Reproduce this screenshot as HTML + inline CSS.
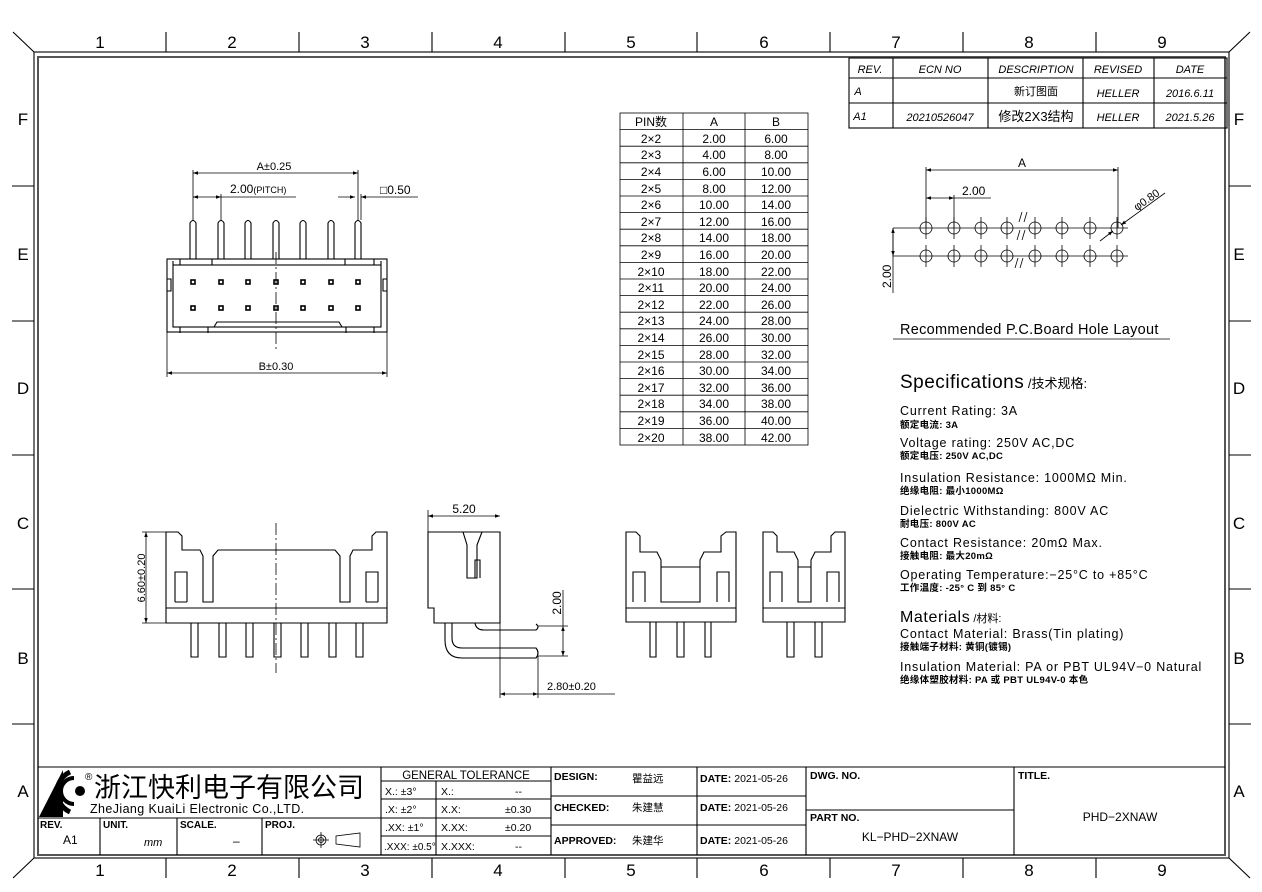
<!DOCTYPE html>
<html><head><meta charset="utf-8"><style>
html,body{margin:0;padding:0;background:#fff}
svg{display:block}
text{font-family:"Liberation Sans","Noto Sans CJK SC",sans-serif;fill:#000}
.s{stroke:#000;stroke-width:1.1;fill:none}
.t{stroke:#000;stroke-width:0.8;fill:none}
.c{stroke:#000;stroke-width:0.8;fill:none;stroke-dasharray:12 3 2 3}
.sp{font-size:12.5px;letter-spacing:0.8px}
.cn{font-size:9.5px;font-weight:bold;letter-spacing:0.3px}
</style></head><body>
<svg width="1262" height="892" viewBox="0 0 1262 892" xmlns="http://www.w3.org/2000/svg">
<defs>
<marker id="a" viewBox="0 0 10 10" refX="10" refY="5" markerWidth="9" markerHeight="5" orient="auto-start-reverse" markerUnits="userSpaceOnUse"><path d="M0,1.5 L10,5 L0,8.5z" fill="#000"/></marker>
</defs>
<!-- frame -->
<rect x="34" y="52" width="1195" height="806" class="s" stroke-width="1.4"/>
<rect x="38" y="57" width="1187" height="798" fill="none" stroke="#555" stroke-width="2"/>
<path class="s" d="M13,32L34,52M1250,32L1229,52M13,878L34,858M1250,878L1229,858"/>
<g class="s">
<path d="M166,32V52M299,32V52M432,32V52M565,32V52M697,32V52M830,32V52M963,32V52M1096,32V52"/>
<path d="M166,858V878M299,858V878M432,858V878M565,858V878M697,858V878M830,858V878M963,858V878M1096,858V878"/>
<path d="M12,186H34M12,321H34M12,455H34M12,589H34M12,724H34"/>
<path d="M1229,186H1251M1229,321H1251M1229,455H1251M1229,589H1251M1229,724H1251"/>
</g>
<g font-size="17" text-anchor="middle">
<text x="100" y="48">1</text><text x="232" y="48">2</text><text x="365" y="48">3</text><text x="498" y="48">4</text><text x="631" y="48">5</text><text x="764" y="48">6</text><text x="896" y="48">7</text><text x="1029" y="48">8</text><text x="1162" y="48">9</text>
<text x="100" y="876">1</text><text x="232" y="876">2</text><text x="365" y="876">3</text><text x="498" y="876">4</text><text x="631" y="876">5</text><text x="764" y="876">6</text><text x="896" y="876">7</text><text x="1029" y="876">8</text><text x="1162" y="876">9</text>
<text x="23" y="125">F</text><text x="23" y="260">E</text><text x="23" y="394">D</text><text x="23" y="529">C</text><text x="23" y="664">B</text><text x="23" y="797">A</text>
<text x="1239" y="125">F</text><text x="1239" y="260">E</text><text x="1239" y="394">D</text><text x="1239" y="529">C</text><text x="1239" y="664">B</text><text x="1239" y="797">A</text>
</g>

<!-- revision table -->
<g class="s"><rect x="849" y="58" width="378" height="70"/><path d="M849,78H1227M849,103H1227M893,58V128M988,58V128M1083,58V128M1154,58V128"/></g>
<g font-size="11" font-style="italic" text-anchor="middle">
<text x="870" y="73">REV.</text><text x="940" y="73">ECN  NO</text><text x="1036" y="73">DESCRIPTION</text><text x="1118" y="73">REVISED</text><text x="1190" y="73">DATE</text>
<text x="858" y="95">A</text><text x="1036" y="95" font-style="normal">新订图面</text><text x="1118" y="97">HELLER</text><text x="1190" y="97">2016.6.11</text>
<text x="860" y="120">A1</text><text x="940" y="121">20210526047</text><text x="1036" y="121" font-style="normal" font-size="13">修改2X3结构</text><text x="1118" y="121">HELLER</text><text x="1190" y="121">2021.5.26</text>
</g>

<!-- PIN table -->
<g class="t">
<rect x="620" y="113" width="188" height="332"/>
<path d="M683,113V445M745,113V445"/>
<path d="M620,129.6H808M620,146.2H808M620,162.8H808M620,179.4H808M620,196H808M620,212.6H808M620,229.2H808M620,245.8H808M620,262.4H808M620,279H808M620,295.6H808M620,312.2H808M620,328.8H808M620,345.4H808M620,362H808M620,378.6H808M620,395.2H808M620,411.8H808M620,428.4H808"/>
</g>
<g font-size="12" text-anchor="middle">
<text x="651" y="126">PIN数</text><text x="714" y="126">A</text><text x="776" y="126">B</text>
<text x="651" y="143">2×2</text><text x="714" y="143">2.00</text><text x="776" y="143">6.00</text>
<text x="651" y="159">2×3</text><text x="714" y="159">4.00</text><text x="776" y="159">8.00</text>
<text x="651" y="176">2×4</text><text x="714" y="176">6.00</text><text x="776" y="176">10.00</text>
<text x="651" y="193">2×5</text><text x="714" y="193">8.00</text><text x="776" y="193">12.00</text>
<text x="651" y="209">2×6</text><text x="714" y="209">10.00</text><text x="776" y="209">14.00</text>
<text x="651" y="226">2×7</text><text x="714" y="226">12.00</text><text x="776" y="226">16.00</text>
<text x="651" y="242">2×8</text><text x="714" y="242">14.00</text><text x="776" y="242">18.00</text>
<text x="651" y="259">2×9</text><text x="714" y="259">16.00</text><text x="776" y="259">20.00</text>
<text x="651" y="276">2×10</text><text x="714" y="276">18.00</text><text x="776" y="276">22.00</text>
<text x="651" y="292">2×11</text><text x="714" y="292">20.00</text><text x="776" y="292">24.00</text>
<text x="651" y="309">2×12</text><text x="714" y="309">22.00</text><text x="776" y="309">26.00</text>
<text x="651" y="325">2×13</text><text x="714" y="325">24.00</text><text x="776" y="325">28.00</text>
<text x="651" y="342">2×14</text><text x="714" y="342">26.00</text><text x="776" y="342">30.00</text>
<text x="651" y="359">2×15</text><text x="714" y="359">28.00</text><text x="776" y="359">32.00</text>
<text x="651" y="375">2×16</text><text x="714" y="375">30.00</text><text x="776" y="375">34.00</text>
<text x="651" y="392">2×17</text><text x="714" y="392">32.00</text><text x="776" y="392">36.00</text>
<text x="651" y="408">2×18</text><text x="714" y="408">34.00</text><text x="776" y="408">38.00</text>
<text x="651" y="425">2×19</text><text x="714" y="425">36.00</text><text x="776" y="425">40.00</text>
<text x="651" y="442">2×20</text><text x="714" y="442">38.00</text><text x="776" y="442">42.00</text>
</g>

<!-- top-left front view -->
<g class="s">
<rect x="167" y="259" width="220" height="73"/>
<rect x="173" y="265" width="208" height="62"/>
<path d="M173,265V261M381,265V261M180,265V259M212,265V259M345,265V259M374,265V259M180,327V333M208,327V333M346,327V333M374,327V333"/>
<path d="M214,327L217,322H339L342,327"/>
<path d="M167,279H171V291H167M387,279H383V291H387"/>
</g>
<g class="s" stroke-width="1">
<path d="M190,259V223Q193,218 196,223V259"/><path d="M218,259V223Q221,218 224,223V259"/><path d="M245,259V223Q248,218 251,223V259"/><path d="M273,259V223Q276,218 279,223V259"/><path d="M300,259V223Q303,218 306,223V259"/><path d="M328,259V223Q331,218 334,223V259"/><path d="M355,259V223Q358,218 361,223V259"/>
</g>
<g fill="#fff" stroke="#000" stroke-width="1.6">
<rect x="191" y="280" width="4" height="4"/><rect x="219" y="280" width="4" height="4"/><rect x="246" y="280" width="4" height="4"/><rect x="274" y="280" width="4" height="4"/><rect x="301" y="280" width="4" height="4"/><rect x="329" y="280" width="4" height="4"/><rect x="356" y="280" width="4" height="4"/>
<rect x="191" y="306" width="4" height="4"/><rect x="219" y="306" width="4" height="4"/><rect x="246" y="306" width="4" height="4"/><rect x="274" y="306" width="4" height="4"/><rect x="301" y="306" width="4" height="4"/><rect x="329" y="306" width="4" height="4"/><rect x="356" y="306" width="4" height="4"/>
</g>
<path class="c" d="M276,252V350"/>
<g class="t">
<path d="M193,170V220M358,170V220M221,194V220M361,194V220"/>
<path d="M193,173H358" marker-start="url(#a)" marker-end="url(#a)"/>
<path d="M193,197H221" marker-start="url(#a)" marker-end="url(#a)"/><path d="M221,197H296"/>
<path d="M338,197H355" marker-end="url(#a)"/><path d="M418,197H361" marker-end="url(#a)"/>
<path d="M167,332V377M387,332V377"/>
<path d="M167,373H387" marker-start="url(#a)" marker-end="url(#a)"/>
</g>
<text x="274" y="170" font-size="11" text-anchor="middle">A±0.25</text>
<text x="230" y="193" font-size="12">2.00<tspan font-size="9">(PITCH)</tspan></text>
<text x="380" y="194" font-size="12">□0.50</text>
<text x="276" y="370" font-size="11" text-anchor="middle">B±0.30</text>

<!-- bottom left view -->
<g class="s">
<path d="M166,623V532H178L182,536V550H200L203,556V602H213V556L218,550H335L340,556V602H350V556L353,550H372V536L376,532H387V623Z"/>
<path d="M175,602V572H187V602M366,602V572H378V602M166,608H387M175,602H187M366,602H378"/>
<path d="M191,623V657H198V623M219,623V657H226V623M246,623V657H253V623M274,623V657H281V623M301,623V657H308V623M329,623V657H336V623M356,623V657H363V623"/>
</g>
<path class="c" d="M276,523V673"/>
<g class="t"><path d="M166,532H142M166,623H142"/><path d="M146,532V623" marker-start="url(#a)" marker-end="url(#a)"/></g>
<text transform="translate(145,578) rotate(-90)" font-size="11" text-anchor="middle">6.60±0.20</text>

<!-- side view -->
<g class="s">
<path d="M428,532H500V623H434V608H428Z"/>
<path d="M463,532L467,545V578H477V545L482,532M475,578V560H480V578"/>
<path d="M475,623Q476,630 484,630H536Q540,627 536,624"/>
<path d="M445,623V640Q445,658 462,658H536Q540,653 536,648H462Q452,648 452,638V623"/>
</g>
<g class="t">
<path d="M428,532V510M500,532V698M538,626H568M538,656H568M538,656V698"/>
<path d="M428,516H500" marker-start="url(#a)" marker-end="url(#a)"/>
<path d="M563,590V626" /><path d="M563,626V656" marker-start="url(#a)" marker-end="url(#a)"/>
<path d="M500,694H538" marker-start="url(#a)" marker-end="url(#a)"/><path d="M538,694H615"/>
</g>
<text x="464" y="513" font-size="12" text-anchor="middle">5.20</text>
<text transform="translate(561,603) rotate(-90)" font-size="12" text-anchor="middle">2.00</text>
<text x="547" y="690" font-size="11">2.80±0.20</text>

<!-- view 3 -->
<g class="s">
<path d="M626,622V532H636L640,536V552H657L661,560V602H700V560L704,552H721V536L726,532H736V622Z"/>
<path d="M661,567H700M633,602V572H645V602M717,602V572H729V602M626,608H736"/>
<path d="M650,622V657H656V622M677,622V657H684V622M705,622V657H711V622"/>
</g>
<!-- view 4 -->
<g class="s">
<path d="M763,622V532H773L777,536V552H794L798,560V602H811V560L815,552H831V536L835,532H845V622Z"/>
<path d="M798,567H811M770,602V572H782V602M827,602V572H839V602M763,608H845"/>
<path d="M787,622V657H794V622M815,622V657H822V622"/>
</g>

<!-- hole layout -->
<g class="t">
<path d="M893,228H1128M893,256H1128"/>
<path d="M926,239V217M954,239V217M981,239V217M1007,239V217M1035,239V217M1062,239V217M1090,239V217M1117,239V217"/>
<path d="M926,267V245M954,267V245M981,267V245M1007,267V245M1035,267V245M1062,267V245M1090,267V245M1117,267V245"/>
<g fill="none">
<circle cx="926" cy="228" r="6"/><circle cx="954" cy="228" r="6"/><circle cx="981" cy="228" r="6"/><circle cx="1007" cy="228" r="6"/><circle cx="1035" cy="228" r="6"/><circle cx="1062" cy="228" r="6"/><circle cx="1090" cy="228" r="6"/><circle cx="1117" cy="228" r="6"/>
<circle cx="926" cy="256" r="6"/><circle cx="954" cy="256" r="6"/><circle cx="981" cy="256" r="6"/><circle cx="1007" cy="256" r="6"/><circle cx="1035" cy="256" r="6"/><circle cx="1062" cy="256" r="6"/><circle cx="1090" cy="256" r="6"/><circle cx="1117" cy="256" r="6"/>
</g>
<path d="M926,167V228M1118,167V228M954,195V228"/>
<path d="M926,170H1118" marker-start="url(#a)" marker-end="url(#a)"/>
<path d="M926,198H954" marker-start="url(#a)" marker-end="url(#a)"/><path d="M954,198H991"/>
<path d="M893,228V293"/><path d="M893,228V256" marker-start="url(#a)" marker-end="url(#a)"/>
<path d="M1100,241L1113,231" marker-end="url(#a)"/><path d="M1165,193L1121,225" marker-end="url(#a)"/>
<path d="M1019,222L1022,212M1024,222L1027,212M1017,240L1020,230M1022,240L1025,230M1015,268L1018,258M1020,268L1023,258"/>
<path d="M893,339H1170"/>
</g>
<text x="1022" y="167" font-size="12" text-anchor="middle">A</text>
<text x="962" y="195" font-size="12">2.00</text>
<text transform="translate(891,288) rotate(-90)" font-size="12">2.00</text>
<text transform="translate(1137,211) rotate(-35)" font-size="11">φ0.80</text>
<text x="900" y="334" font-size="14.5" letter-spacing="0.3">Recommended  P.C.Board Hole  Layout</text>

<!-- specs -->
<g>
<text x="900" y="388" font-size="19" letter-spacing="0.5">Specifications<tspan font-size="13" letter-spacing="0"> /技术规格:</tspan></text>
<text x="900" y="415" class="sp">Current  Rating:  3A</text>
<text x="900" y="428" class="cn">额定电流: 3A</text>
<text x="900" y="447" class="sp">Voltage  rating:  250V  AC,DC</text>
<text x="900" y="459" class="cn">额定电压: 250V AC,DC</text>
<text x="900" y="482" class="sp">Insulation  Resistance:  1000MΩ  Min.</text>
<text x="900" y="494" class="cn">绝缘电阻: 最小1000MΩ</text>
<text x="900" y="515" class="sp">Dielectric  Withstanding:    800V  AC</text>
<text x="900" y="527" class="cn">耐电压: 800V AC</text>
<text x="900" y="547" class="sp">Contact  Resistance:    20mΩ  Max.</text>
<text x="900" y="559" class="cn">接触电阻: 最大20mΩ</text>
<text x="900" y="579" class="sp">Operating  Temperature:−25°C  to  +85°C</text>
<text x="900" y="591" class="cn">工作温度: -25° C 到 85° C</text>
<text x="900" y="622" font-size="16" letter-spacing="0.6">Materials<tspan font-size="11" letter-spacing="0"> /材料:</tspan></text>
<text x="900" y="638" class="sp">Contact  Material:  Brass(Tin  plating)</text>
<text x="900" y="650" class="cn">接触端子材料: 黄铜(镀锡)</text>
<text x="900" y="671" class="sp">Insulation  Material:  PA  or  PBT  UL94V−0  Natural</text>
<text x="900" y="683" class="cn">绝缘体塑胶材料: PA 或 PBT UL94V-0 本色</text>
</g>

<!-- title block -->
<g class="s">
<path d="M38,767H1225"/>
<path d="M38,818H381M100,818V855M177,818V855M262,818V855"/>
<path d="M381,767V855M551,767V855M697,767V855M806,767V855M1014,767V855"/>
<path d="M381,781H551M381,799H551M381,818H551M381,836H551M436,781V855"/>
<path d="M551,796H806M551,825H806M806,810H1014"/>
</g>
<!-- logo -->
<path d="M39,817L63,770V817Z" fill="#000"/>
<path d="M70,772A22,22 0 0 0 70,812" stroke="#000" stroke-width="5" fill="none"/>
<path d="M74,778A13,13 0 0 0 74,804" stroke="#000" stroke-width="4" fill="none"/>
<circle cx="80" cy="791" r="5" fill="#000"/>
<text x="85" y="780" font-size="10">®</text>
<text x="94" y="797" font-size="27">浙江快利电子有限公司</text>
<text x="90" y="813" font-size="12.5" letter-spacing="0.4">ZheJiang KuaiLi Electronic Co.,LTD.</text>
<g font-size="10" font-weight="bold">
<text x="40" y="828">REV.</text><text x="103" y="828">UNIT.</text><text x="180" y="828">SCALE.</text><text x="265" y="828">PROJ.</text>
</g>
<text x="63" y="844" font-size="12">A1</text>
<text x="144" y="846" font-size="11" font-style="italic">mm</text>
<text x="233" y="845" font-size="12">–</text>
<g class="t" stroke-width="1"><circle cx="321" cy="840" r="5"/><circle cx="321" cy="840" r="2.5"/><path d="M313,840H329M321,832V848M336,836V844L360,847V833Z"/></g>
<g font-size="10.5">
<text x="466" y="779" text-anchor="middle" font-size="11.5">GENERAL  TOLERANCE</text>
<text x="385" y="795">X.: ±3°</text><text x="441" y="795">X.:</text><text x="515" y="795">--</text>
<text x="385" y="813">.X: ±2°</text><text x="441" y="813">X.X:</text><text x="505" y="813">±0.30</text>
<text x="385" y="831">.XX: ±1°</text><text x="441" y="831">X.XX:</text><text x="505" y="831">±0.20</text>
<text x="384" y="850" font-size="10">.XXX: ±0.5°</text><text x="441" y="850">X.XXX:</text><text x="515" y="850">--</text>
</g>
<g font-size="10.5">
<text x="554" y="780" font-weight="bold">DESIGN:</text><text x="632" y="782">瞿益远</text><text x="700" y="782"><tspan font-weight="bold">DATE:</tspan> 2021-05-26</text>
<text x="554" y="811" font-weight="bold">CHECKED:</text><text x="632" y="811">朱建慧</text><text x="700" y="811"><tspan font-weight="bold">DATE:</tspan> 2021-05-26</text>
<text x="554" y="844" font-weight="bold">APPROVED:</text><text x="632" y="844">朱建华</text><text x="700" y="844"><tspan font-weight="bold">DATE:</tspan> 2021-05-26</text>
<text x="810" y="779" font-weight="bold">DWG. NO.</text>
<text x="810" y="821" font-weight="bold">PART NO.</text>
<text x="1018" y="779" font-weight="bold">TITLE.</text>
</g>
<text x="910" y="841" font-size="12" text-anchor="middle">KL−PHD−2XNAW</text>
<text x="1120" y="821" font-size="12" text-anchor="middle">PHD−2XNAW</text>
</svg>
</body></html>
